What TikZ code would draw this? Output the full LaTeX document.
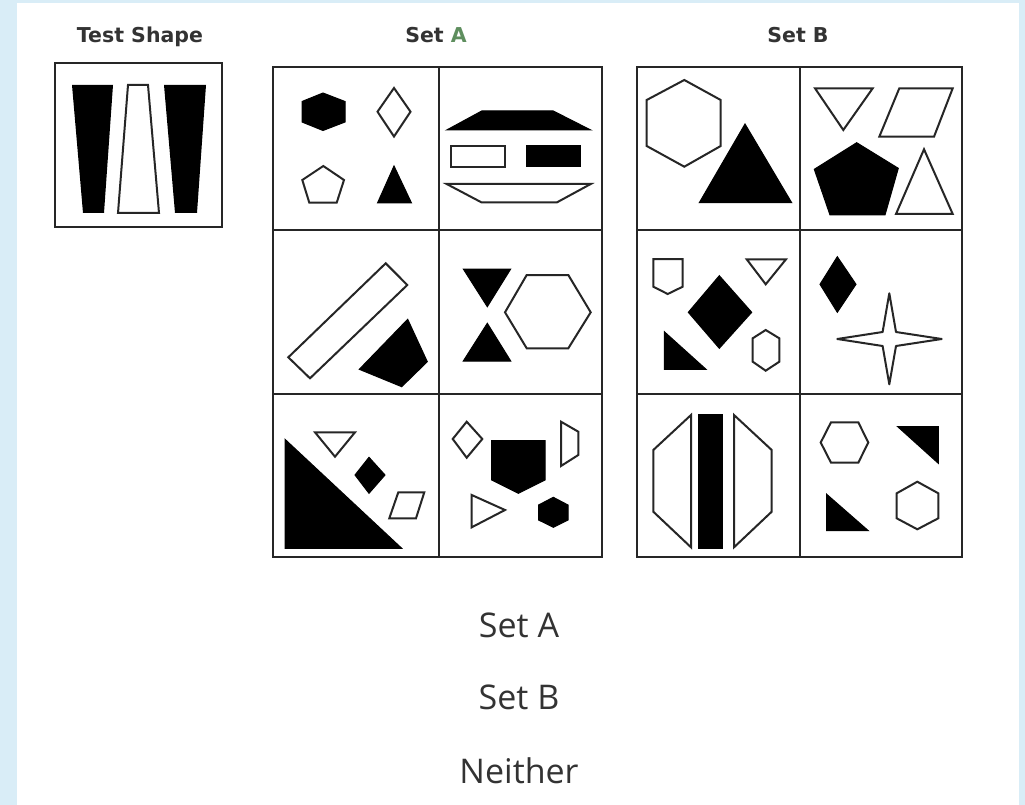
\documentclass[tikz,border=0pt]{standalone}
\usepackage{fontspec}
\setmainfont{Open Sans}
\newfontfamily\labfont{DejaVu Sans}
\definecolor{bluestrip}{HTML}{D9EDF7}
\definecolor{txtgrey}{HTML}{333333}
\definecolor{agreen}{HTML}{5E8E5E}
\begin{document}
\begin{tikzpicture}[x=1pt,y=-1pt,
  blk/.style={fill=black,draw=black,line width=1pt,line join=miter},
  wht/.style={draw=black!85,line width=2pt,fill=white,line join=miter},
  gridline/.style={draw=black!85,line width=2.6pt},
  toplab/.style={font=\labfont\bfseries\fontsize{20.5}{20.5}\selectfont,text=txtgrey,anchor=base,inner sep=0pt},
  answer/.style={font=\fontsize{34}{34}\selectfont,text=txtgrey,anchor=base,inner sep=0pt}]
% background and page frame
\fill[white] (0,0) rectangle (1025,805);
\useasboundingbox (0,0) rectangle (1025,805);
\fill[bluestrip] (0,0) rectangle (17,805);
\fill[bluestrip] (0,0) rectangle (1025,3);
\fill[bluestrip] (1019,0) rectangle (1025,805);

% titles
\node[toplab] (tTest) at (140,43) {Test Shape};
\node[toplab] (tA) at (436,43) {Set \textcolor{agreen}{A}};
\node[toplab] (tB) at (798,43) {Set B};

% ---------- Test shape ----------
\draw[gridline] (55,63) rectangle (222,227);
\fill[black] (72,85) -- (113,85) -- (104,213) -- (83,213) -- cycle;
\draw[wht] (128,85) -- (148,85) -- (159,213) -- (118,213) -- cycle;
\fill[black] (164,85) -- (206,85) -- (197,213) -- (175,213) -- cycle;

% ---------- Set A grid ----------
\draw[gridline] (273,67) rectangle (602,557);
\draw[gridline] (439,67) -- (439,557);
\draw[gridline] (273,230) -- (602,230);
\draw[gridline] (273,394) -- (602,394);

% A1
\draw[blk] (323,93) -- (345,101.5) -- (345,122) -- (323,130.5) -- (302,122) -- (302,101.5) -- cycle;
\draw[wht] (394,88) -- (410.5,111.7) -- (394,136.5) -- (377.5,111.7) -- cycle;
\draw[wht] (323.3,166) -- (344,180) -- (336.7,202.7) -- (309.3,202.7) -- (302.3,180) -- cycle;
\draw[blk] (394,166) -- (411.5,203) -- (377.5,203) -- cycle;
% A2
\draw[blk] (481.7,111) -- (553.3,111) -- (590.7,130) -- (446.7,130) -- cycle;
\draw[wht] (451,146) rectangle (505,167);
\draw[blk] (526,146) rectangle (580,167);
\draw[wht] (446.7,184) -- (590.7,184) -- (556.7,202.5) -- (481.7,202.5) -- cycle;
% A3
\draw[wht] (385.7,263.3) -- (407.3,285) -- (310,378.3) -- (288.3,357.3) -- cycle;
\draw[blk] (407.7,319.3) -- (427.3,361.7) -- (401.7,386.7) -- (359.3,369.3) -- cycle;
% A4
\draw[blk] (463.3,269) -- (510.7,269) -- (487.3,306.7) -- cycle;
\draw[blk] (487.3,323.3) -- (510.7,361) -- (463.3,361) -- cycle;
\draw[wht] (526.7,275) -- (568.3,275) -- (590.7,312.3) -- (568.3,348.3) -- (526.7,348.3) -- (505,312.3) -- cycle;
% A5
\draw[blk] (285,439.3) -- (401.7,548.3) -- (285,548.3) -- cycle;
\draw[wht] (315,432.3) -- (355,432.3) -- (335,456.7) -- cycle;
\draw[blk] (369,457.3) -- (385,475) -- (369,493.3) -- (355,475) -- cycle;
\draw[wht] (398.3,492.3) -- (424.3,492.3) -- (416,518.3) -- (389.3,518.3) -- cycle;
% A6
\draw[wht] (466.7,421.7) -- (482.3,439) -- (466.7,457.7) -- (452.7,439) -- cycle;
\draw[blk] (491.7,440.7) -- (545,440.7) -- (545,480) -- (518.3,493.3) -- (491.7,480) -- cycle;
\draw[wht] (561,421.7) -- (578.3,431.7) -- (578.3,455) -- (561,466) -- cycle;
\draw[wht] (471.7,495) -- (505,510) -- (471.7,527.3) -- cycle;
\draw[blk] (553.3,497.3) -- (568,505) -- (568,520) -- (553.3,527.3) -- (538.6,520) -- (538.6,505) -- cycle;

% ---------- Set B grid ----------
\draw[gridline] (637,67) rectangle (962,557);
\draw[gridline] (800,67) -- (800,557);
\draw[gridline] (637,230) -- (962,230);
\draw[gridline] (637,394) -- (962,394);

% B1
\draw[wht] (684.3,80) -- (720.7,100) -- (720.7,146) -- (684.3,166.7) -- (646.7,146) -- (646.7,100) -- cycle;
\draw[blk] (745,124) -- (791.7,202.7) -- (699.3,202.7) -- cycle;
% B2
\draw[wht] (815,88.3) -- (872.7,88.3) -- (843.3,130) -- cycle;
\draw[wht] (899.3,88.3) -- (952.7,88.3) -- (934,136.7) -- (879.3,136.7) -- cycle;
\draw[blk] (856.7,142.7) -- (898.3,168.3) -- (885,215) -- (830,215) -- (814.3,169.3) -- cycle;
\draw[wht] (924,149.3) -- (952.7,214) -- (896,214) -- cycle;
% B3
\draw[wht] (653.3,259) -- (682.7,259) -- (682.7,286.7) -- (667.7,294) -- (653.3,286.7) -- cycle;
\draw[wht] (746.7,259.3) -- (786,259.3) -- (765.7,284.3) -- cycle;
\draw[blk] (719.3,275.7) -- (751.7,312.3) -- (719.3,348.3) -- (688.3,312.3) -- cycle;
\draw[blk] (664.3,331.7) -- (706,369.3) -- (664.3,369.3) -- cycle;
\draw[wht] (765.7,330) -- (779.3,338.3) -- (779.3,361.7) -- (765.7,370.7) -- (752.7,361.7) -- (752.7,338.3) -- cycle;
% B4
\draw[blk] (837.3,256.7) -- (856,284.3) -- (837.3,312.3) -- (820,284.3) -- cycle;
\draw[wht,line join=round] (889.3,293.3) -- (896,332) -- (941.7,339) -- (896,346) -- (889.3,384.3)
  -- (882.6,346) -- (837.3,339) -- (882.6,332) -- cycle;
% B5
\draw[wht] (691,415) -- (653.3,450) -- (653.3,511.7) -- (691,547.3) -- cycle;
\draw[blk] (698.3,414) rectangle (722.7,548.3);
\draw[wht] (734,415) -- (771.7,450) -- (771.7,511.7) -- (734,547.3) -- cycle;
% B6
\draw[wht] (820.7,442.5) -- (831,422.3) -- (858.3,422.3) -- (868.3,442.5) -- (858.3,462.7) -- (831,462.7) -- cycle;
\draw[blk] (897.7,426.7) -- (938.3,426.7) -- (938.3,463.3) -- cycle;
\draw[blk] (826.7,494.3) -- (868.3,530.7) -- (826.7,530.7) -- cycle;
\draw[wht] (917.3,481.7) -- (938.3,493.3) -- (938.3,518.3) -- (917.3,529.3) -- (896.7,518.3) -- (896.7,493.3) -- cycle;

% ---------- answers ----------
\node[answer] (ansA) at (519,637) {Set A};
\node[answer] (ansB) at (519,709) {Set B};
\node[answer] (ansN) at (519,783) {Neither};
\end{tikzpicture}
\end{document}
